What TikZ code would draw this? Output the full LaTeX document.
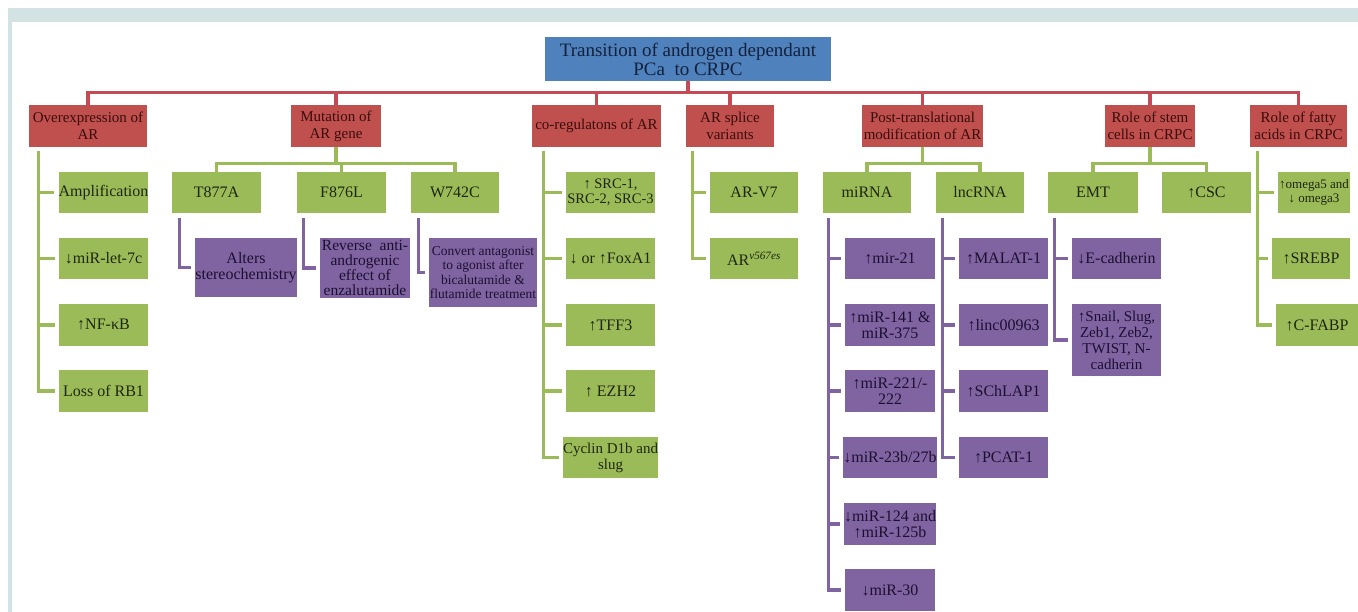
\documentclass[tikz,border=0pt]{standalone}
\usepackage{fontspec}
\setmainfont{Liberation Serif}
\definecolor{rd}{HTML}{C0504D}
\definecolor{rdline}{HTML}{C44B55}
\definecolor{bl}{HTML}{4F81BD}
\definecolor{gr}{HTML}{9BBB59}
\definecolor{pu}{HTML}{8064A2}
\definecolor{frame}{HTML}{D3E3E3}
\definecolor{rtext}{HTML}{3A0C0C}
\definecolor{btext}{HTML}{14213D}
\definecolor{gtext}{HTML}{1E260E}
\definecolor{ptext}{HTML}{1C1030}
\newcommand\mybox[7]{%
  \pgfmathsetmacro\myBW{#5-#3}\pgfmathsetmacro\myBH{#6-#4}%
  \node[#1,minimum width=\myBW pt,minimum height=\myBH pt] (#2) at ({(#3+#5)/2},{(#4+#6)/2}) {#7};}
\newcommand\vlist[5]{\foreach \cc in {#5}{\draw[#1] ([xshift=#3pt,yshift=-#4pt]#2.south west) |- ([xshift=-4pt]\cc.west);}}
\begin{document}
\begin{tikzpicture}[x=1pt,y=-1pt,
  bx/.style={inner sep=0pt,align=center},
  rootbox/.style={bx,fill=bl,text=btext,font=\fontsize{19}{19}\selectfont},
  rbox/.style={bx,fill=rd,text=rtext,font=\fontsize{15}{17}\selectfont},
  gbox/.style={bx,fill=gr,text=gtext,font=\fontsize{16}{16}\selectfont},
  pbox/.style={bx,fill=pu,text=ptext,font=\fontsize{16}{16}\selectfont},
  rline/.style={draw=rdline,line width=3.2pt},
  gline/.style={draw=gr,line width=3.2pt},
  pline/.style={draw=pu,line width=3.2pt}]
\useasboundingbox (0,0) rectangle (1358,612);
\fill[white] (0,0) rectangle (1358,612);
\fill[frame] (8,8) rectangle (1358,22);
\fill[frame] (8,8) rectangle (12,612);
% root
\mybox{rootbox}{root}{545}{37}{831}{81}{Transition of androgen dependant\\PCa\ \ to CRPC}
% level 1
\mybox{rbox}{over}{29}{105}{147}{147}{Overexpression of\\AR}
\mybox{rbox}{mut}{291}{105}{381}{147}{Mutation of\\AR gene}
\mybox{rbox}{coreg}{532}{105}{661}{147}{co-regulatons of AR}
\mybox{rbox}{splice}{686}{105}{774}{147}{AR splice\\variants}
\mybox{rbox,font=\fontsize{15}{16.5}\selectfont}{post}{862}{105}{983}{147}{Post-translational\\modification of AR}
\mybox{rbox}{stem}{1105}{105}{1195}{147}{Role of stem\\cells in CRPC}
\mybox{rbox}{fatty}{1250}{105}{1347}{147}{Role of fatty\\acids in CRPC}
% overexpression
\mybox{gbox}{amp}{59}{172}{148}{213}{Amplification}
\mybox{gbox}{let}{59}{238}{148}{279}{↓miR-let-7c}
\mybox{gbox}{nfkb}{59}{304}{148}{346}{↑NF-κB}
\mybox{gbox}{rb}{59}{370}{148}{412}{Loss of RB1}
% mutation
\mybox{gbox}{t877}{172}{172}{261}{213}{T877A}
\mybox{gbox}{f876}{297}{172}{386}{213}{F876L}
\mybox{gbox}{w742}{411}{172}{499}{213}{W742C}
\mybox{pbox}{alters}{196}{238}{296}{297}{Alters\\stereochemistry}
\mybox{pbox,font=\fontsize{15.5}{15}\selectfont}{rev}{320}{238}{410}{298}{Reverse\ \ anti-\\androgenic\\effect of\\enzalutamide}
\mybox{pbox,font=\fontsize{13.5}{14.5}\selectfont}{conv}{429}{238}{537}{307}{Convert antagonist\\to agonist after\\bicalutamide \&\\flutamide treatment}
% coregulators
\mybox{gbox,font=\fontsize{14.5}{15}\selectfont}{src}{566}{172}{655}{213}{↑ SRC-1,\\SRC-2, SRC-3}
\mybox{gbox}{fox}{566}{238}{655}{279}{↓ or ↑FoxA1}
\mybox{gbox}{tff}{566}{304}{655}{346}{↑TFF3}
\mybox{gbox}{ezh}{566}{370}{655}{412}{↑ EZH2}
\mybox{gbox,font=\fontsize{15}{16}\selectfont}{cyc}{566}{437}{655}{478}{Cyclin D1b and\\slug}
% splice
\mybox{gbox}{v7}{710}{172}{798}{213}{AR-V7}
\mybox{gbox}{v567}{710}{238}{798}{279}{AR\textsuperscript{\textit{v567es}}}
% post-translational
\mybox{gbox}{mirna}{823}{172}{911}{213}{miRNA}
\mybox{gbox}{lnc}{936}{172}{1024}{213}{lncRNA}
\mybox{pbox}{m21}{845}{238}{935}{279}{↑mir-21}
\mybox{pbox}{m141}{845}{304}{935}{346}{↑miR-141 \&\\miR-375}
\mybox{pbox}{m221}{845}{370}{935}{412}{↑miR-221/-\\222}
\mybox{pbox}{m23}{845}{437}{935}{478}{↓miR-23b/27b}
\mybox{pbox}{m124}{845}{503}{935}{545}{↓miR-124 and\\↑miR-125b}
\mybox{pbox}{m30}{845}{569}{935}{611}{↓miR-30}
\mybox{pbox}{malat}{959}{238}{1048}{279}{↑MALAT-1}
\mybox{pbox}{linc}{959}{304}{1048}{346}{↑linc00963}
\mybox{pbox}{schlap}{959}{370}{1048}{412}{↑SChLAP1}
\mybox{pbox}{pcat}{959}{437}{1048}{478}{↑PCAT-1}
% stem cells
\mybox{gbox}{emt}{1048}{172}{1138}{213}{EMT}
\mybox{gbox}{csc}{1162}{172}{1251}{213}{↑CSC}
\mybox{pbox}{ecad}{1072}{238}{1161}{279}{↓E-cadherin}
\mybox{pbox,font=\fontsize{15}{16}\selectfont}{snail}{1072}{304}{1161}{376}{↑Snail, Slug,\\Zeb1, Zeb2,\\TWIST, N-\\cadherin}
% fatty acids
\mybox{gbox,font=\fontsize{13}{14}\selectfont}{omega}{1278}{172}{1350}{213}{↑omega5 and\\↓ omega3}
\mybox{gbox}{srebp}{1272}{238}{1350}{279}{↑SREBP}
\mybox{gbox}{cfabp}{1276}{304}{1358}{346}{↑C-FABP}
% connectors
\foreach \c in {over,mut,coreg,splice,post,stem,fatty}
  {\draw[rline] (root.south) -- ++(0,11) -| (\c.north);}
\foreach \c in {t877,f876,w742}
  {\draw[gline] (mut.south) -- ++(0,16) -| (\c.north);}
\foreach \c in {mirna,lnc}
  {\draw[gline] (post.south) -- ++(0,16) -| (\c.north);}
\foreach \c in {emt,csc}
  {\draw[gline] (stem.south) -- ++(0,16) -| (\c.north);}
\vlist{gline}{over}{10}{4}{amp,let,nfkb,rb}
\vlist{gline}{coreg}{12}{4}{src,fox,tff,ezh,cyc}
\vlist{gline}{splice}{7}{4}{v7,v567}
\vlist{gline}{fatty}{8}{4}{omega,srebp,cfabp}
\vlist{pline}{t877}{8}{5}{alters}
\vlist{pline}{f876}{7}{5}{rev}
\vlist{pline}{w742}{8}{5}{conv}
\vlist{pline}{mirna}{6}{5}{m21,m141,m221,m23,m124,m30}
\vlist{pline}{lnc}{7}{5}{malat,linc,schlap,pcat}
\vlist{pline}{emt}{7}{5}{ecad,snail}
\end{tikzpicture}
\end{document}
